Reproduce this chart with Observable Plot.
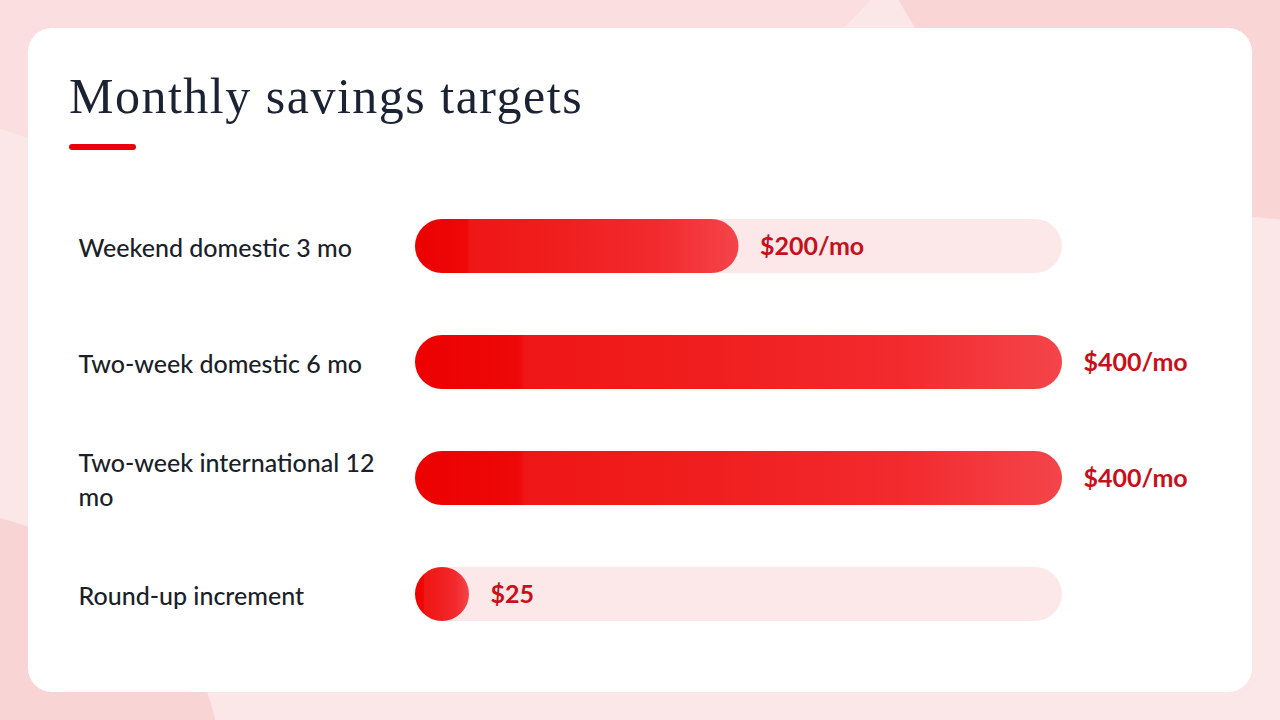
<!DOCTYPE html>
<html>
<head>
<meta charset="utf-8">
<script src="https://cdn.jsdelivr.net/npm/d3@7"></script>
<script src="https://cdn.jsdelivr.net/npm/@observablehq/plot@0.6"></script>
<style>
  html, body { margin: 0; padding: 0; }
  body { width: 1280px; height: 720px; overflow: hidden; position: relative; background: #fbe7e8; font-family: Lato, sans-serif; }
  .blob { position: absolute; border-radius: 50%; }
  #card { position: absolute; left: 28px; top: 28px; width: 1224px; height: 664px; background: #ffffff; border-radius: 24px; }
  #title { position: absolute; left: 41px; top: 39px; font-family: "Liberation Serif", serif; font-size: 50px; color: #1a2233; white-space: nowrap; letter-spacing: 1.5px; }
  #rule { position: absolute; left: 41px; top: 116px; width: 67px; height: 6px; background: #e8000b; border-radius: 3px; }
  #chart { position: absolute; left: 0; top: 160px; }
</style>
</head>
<body>
<div class="blob" style="left:-260px; top:-420px; width:1180px; height:600px; background:#fbdfe0;"></div>
<div class="blob" style="left:860px; top:-520px; width:900px; height:740px; background:#f9d5d6;"></div>
<div class="blob" style="left:-420px; top:505px; width:640px; height:520px; background:#f8d4d5;"></div>
<div id="card">
  <div id="title">Monthly savings targets</div>
  <div id="rule"></div>
  <div id="chart"></div>
</div>
<script>
const categories = ["Weekend domestic 3 mo", "Two-week domestic 6 mo", "Two-week international 12 mo", "Round-up increment"];
const values = [200, 400, 400, 25];
const valueLabels = ["$200/mo", "$400/mo", "$400/mo", "$25"];
const maxValue = 400;

const width = 1224, height = 464, marginLeft = 387, marginRight = 190;
const barHeight = 54;
// minimum visible bar length equals the bar height (a circle), in data units
const minValue = barHeight / (width - marginLeft - marginRight) * maxValue;

const rows = categories.map((c, i) => ({
  category: c,
  value: values[i],
  end: Math.max(values[i], minValue),
  label: valueLabels[i]
}));

const gradientDefs = () => {
  const ns = "http://www.w3.org/2000/svg";
  const defs = document.createElementNS(ns, "defs");
  const g = document.createElementNS(ns, "linearGradient");
  g.setAttribute("id", "barGrad");
  g.setAttribute("x1", "0"); g.setAttribute("x2", "1");
  g.setAttribute("y1", "0"); g.setAttribute("y2", "0");
  [["0%", "#ec0000"], ["16%", "#ee0808"], ["17%", "#ef1616"], ["45%", "#f01e1e"], ["75%", "#f22a2e"], ["100%", "#f4454a"]].forEach(([o, c]) => {
    const s = document.createElementNS(ns, "stop");
    s.setAttribute("offset", o); s.setAttribute("stop-color", c);
    g.appendChild(s);
  });
  defs.appendChild(g);
  return defs;
};

const chart = Plot.plot({
  width, height,
  marginLeft, marginRight, marginTop: 0, marginBottom: 0,
  x: { domain: [0, maxValue], axis: null },
  y: { domain: categories, axis: null, paddingInner: 1 - 54 / 116, paddingOuter: (1 - 54 / 116) / 2 },
  style: { background: "transparent", overflow: "visible" },
  marks: [
    gradientDefs,
    Plot.barX(rows, { y: "category", x1: 0, x2: maxValue, fill: "#fce8e9", rx: 27 }),
    Plot.barX(rows, { y: "category", x1: 0, x2: "end", fill: "url(#barGrad)", rx: 27 }),
    Plot.text(rows, {
      y: "category", text: "category", frameAnchor: "left", dx: -337, textAnchor: "start",
      lineWidth: 14, lineHeight: 1.36, fontSize: 25, fill: "#1b1f2a",
      fontFamily: "Lato, sans-serif", fontWeight: 500
    }),
    Plot.text(rows, {
      y: "category", x: "end", text: "label", dx: 21, textAnchor: "start",
      fontSize: 25, fill: "#c8101a", fontFamily: "Lato, sans-serif", fontWeight: 700
    })
  ]
});
document.getElementById("chart").appendChild(chart);
</script>
</body>
</html>
